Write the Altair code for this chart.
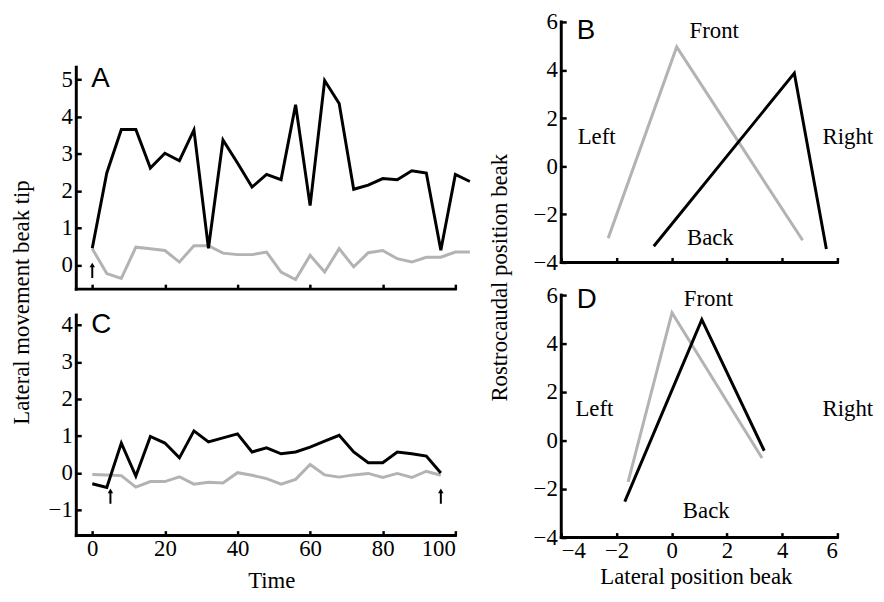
import altair as alt
import pandas as pd

SERIF = "Liberation Serif"
SANS = "Liberation Sans"
BLACK = "#000000"
GREY = "#b3b3b3"
FS = 23

# ---------------- data ----------------
time_A = [0, 4, 8, 12, 16, 20, 24, 28, 32, 36, 40, 44, 48, 52, 56, 60, 64, 68, 72, 76, 80, 84, 88, 92, 96, 100, 104]
A_black = [0.45, 2.48, 3.65, 3.65, 2.61, 3.01, 2.81, 3.64, 0.45, 3.37, 2.75, 2.10, 2.44, 2.30, 4.32, 1.60,
           4.97, 4.35, 2.04, 2.15, 2.33, 2.30, 2.54, 2.48, 0.40, 2.44, 2.25]
A_grey = [0.44, -0.23, -0.36, 0.48, 0.44, 0.39, 0.08, 0.52, 0.52, 0.32, 0.28, 0.28, 0.35, -0.19, -0.39, 0.26,
          -0.19, 0.44, -0.05, 0.33, 0.39, 0.17, 0.08, 0.21, 0.21, 0.35, 0.35]

time_C = [0, 4, 8, 12, 16, 20, 24, 28, 32, 36, 40, 44, 48, 52, 56, 60, 64, 68, 72, 76, 80, 84, 88, 92, 96]
C_black = [-0.29, -0.39, 0.81, -0.08, 0.99, 0.81, 0.41, 1.14, 0.84, 0.95, 1.06, 0.57, 0.68, 0.52, 0.57, 0.70,
           0.86, 1.02, 0.57, 0.28, 0.28, 0.57, 0.52, 0.46, 0.00]
C_grey = [-0.04, -0.05, -0.07, -0.38, -0.23, -0.23, -0.10, -0.30, -0.25, -0.27, 0.01, -0.06, -0.15, -0.30, -0.17,
          0.23, -0.05, -0.11, -0.05, -0.01, -0.12, -0.01, -0.12, 0.05, -0.06]

B_grey_x = [-2.30, 0.18, 4.74]
B_grey_y = [-2.99, 4.96, -3.08]
B_black_x = [-0.65, 4.44, 5.60]
B_black_y = [-3.33, 3.87, -3.44]

D_grey_x = [-1.58, 0.01, 3.27]
D_grey_y = [-1.70, 5.27, -0.72]
D_black_x = [-1.70, 1.09, 3.35]
D_black_y = [-2.52, 4.99, -0.42]

dir_labels = ["Front", "Left", "Right", "Back"]
B_dir_x = [1.54, -2.72, 6.38, 1.40]
B_dir_y = [5.60, 1.22, 1.22, -3.00]
D_dir_x = [1.33, -2.80, 6.38, 1.25]
D_dir_y = [5.85, 1.30, 1.30, -2.90]

# arrows (time, base, tip)
A_arrow_t = [0]
C_arrow_t = [5, 96]
A_arrow_base, A_arrow_tip = -0.35, 0.08
C_arrow_base, C_arrow_tip = -0.83, -0.40

# panel letters
letters = ["A", "C", "B", "D"]
letter_x = [-0.3, -0.3, -3.44, -3.44]
letter_y = [5.00, 4.00, 5.62, 5.81]

# axis extents
A_xdom, A_ydom = [-4.4, 100], [-0.65, 6.55]
A_yline = [-0.65, 5.33]
C_xdom, C_ydom = [-4.4, 100], [-1.69, 4.81]
C_yline = [-1.69, 4.27]
BD_xdom, BD_ydom = [-4, 6], [-4, 6]

W_L, W_R = 383, 279
H_A, H_C, H_B, H_D = 270, 243, 243, 245


def line_df(xs, ys):
    return pd.DataFrame({"x": xs, "y": ys, "i": list(range(len(xs)))})


def make_panel(series, xdom, ydom, xline, yline, w, h, xaxis, yaxis, texts, letter, arrows=None):
    xs = alt.Scale(domain=xdom, nice=False, zero=False)
    ys = alt.Scale(domain=ydom, nice=False, zero=False)

    def X(f):
        return alt.X(f, scale=xs, axis=xaxis)

    def Y(f):
        return alt.Y(f, scale=ys, axis=yaxis)

    layers = []
    for df, col in series:
        layers.append(alt.Chart(df).mark_line(color=col, strokeWidth=3, clip=False).encode(
            x=X("x:Q"), y=Y("y:Q"), order="i:Q"))
    ax_df = pd.DataFrame({"x": [xline[0], xline[0]], "x2": [xline[1], xline[0]],
                          "y": [yline[0], yline[0]], "y2": [yline[0], yline[1]]})
    layers.append(alt.Chart(ax_df).mark_rule(color=BLACK, strokeWidth=3, strokeCap="square").encode(
        x=X("x:Q"), x2="x2:Q", y=Y("y:Q"), y2="y2:Q"))
    if texts is not None:
        layers.append(alt.Chart(texts).mark_text(font=SERIF, fontSize=FS, color=BLACK,
                                                 align="center", baseline="middle").encode(
            x=X("x:Q"), y=Y("y:Q"), text="label:N"))
    layers.append(alt.Chart(letter).mark_text(font=SANS, fontSize=28, color=BLACK,
                                              align="left", baseline="middle").encode(
        x=X("x:Q"), y=Y("y:Q"), text="label:N"))
    if arrows is not None:
        layers.append(alt.Chart(arrows).mark_rule(color=BLACK, strokeWidth=2).encode(
            x=X("x:Q"), y=Y("base:Q"), y2="shaft:Q"))
        layers.append(alt.Chart(arrows).mark_point(shape="triangle-up", filled=True, color=BLACK,
                                                   opacity=1, size=30).encode(
            x=X("x:Q"), y=Y("head:Q")))
    return alt.layer(*layers).properties(width=w, height=h)


COMMON = dict(offset=-5, tickSize=5, tickWidth=2.5, tickColor=BLACK, domain=False, grid=False,
              labelFont=SERIF, labelFontSize=FS, labelColor=BLACK,
              titleFont=SERIF, titleFontSize=FS, titleFontWeight="normal", titleColor=BLACK)


def x_axis(labels, values, title=None, tx=None, ty=None):
    kw = dict(values=values, labels=labels, labelPadding=2, **COMMON)
    if title:
        kw.update(title=title, titleX=tx, titleY=ty, titleAlign="center", titleBaseline="middle",
                  titleAngle=0)
    else:
        kw.update(title=None)
    return alt.Axis(**kw)


def y_axis(values, title=None, tx=None, ty=None):
    kw = dict(values=values, labelPadding=4, **COMMON)
    if title:
        kw.update(title=title, titleX=tx, titleY=ty, titleAlign="center", titleBaseline="middle",
                  titleAngle=-90)
    else:
        kw.update(title=None)
    return alt.Axis(**kw)


def arrow_df(ts, base, tip, px_per_unit):
    head = tip - 3.0 / px_per_unit
    return pd.DataFrame({"x": ts, "base": [base] * len(ts), "shaft": [head] * len(ts),
                         "head": [head] * len(ts)})


def letter_df(k):
    return pd.DataFrame({"x": [letter_x[k]], "y": [letter_y[k]], "label": [letters[k]]})


panel_A = make_panel(
    [(line_df(time_A, A_grey), GREY), (line_df(time_A, A_black), BLACK)],
    A_xdom, A_ydom, [A_xdom[0], 100], A_yline, W_L, H_A,
    x_axis(False, [0, 20, 40, 60, 80, 100]),
    y_axis([0, 1, 2, 3, 4, 5]),
    None, letter_df(0), arrow_df(A_arrow_t, A_arrow_base, A_arrow_tip, 37.5))

panel_C = make_panel(
    [(line_df(time_C, C_grey), GREY), (line_df(time_C, C_black), BLACK)],
    C_xdom, C_ydom, [C_xdom[0], 100], C_yline, W_L, H_C,
    x_axis(True, [0, 20, 40, 60, 80, 100], "Time", 197, 50),
    y_axis([-1, 0, 1, 2, 3, 4], "Lateral movement beak tip", -60, 7),
    None, letter_df(1), arrow_df(C_arrow_t, C_arrow_base, C_arrow_tip, 37.4))

B_texts = pd.DataFrame({"x": B_dir_x, "y": B_dir_y, "label": dir_labels})
D_texts = pd.DataFrame({"x": D_dir_x, "y": D_dir_y, "label": dir_labels})

panel_B = make_panel(
    [(line_df(B_grey_x, B_grey_y), GREY), (line_df(B_black_x, B_black_y), BLACK)],
    BD_xdom, BD_ydom, BD_xdom, BD_ydom, W_R, H_B,
    x_axis(False, [-4, -2, 0, 2, 4, 6]),
    y_axis([-4, -2, 0, 2, 4, 6]),
    B_texts, letter_df(2))

panel_D = make_panel(
    [(line_df(D_grey_x, D_grey_y), GREY), (line_df(D_black_x, D_black_y), BLACK)],
    BD_xdom, BD_ydom, BD_xdom, BD_ydom, W_R, H_D,
    x_axis(True, [-4, -2, 0, 2, 4, 6], "Lateral position beak", 136, 44),
    y_axis([-4, -2, 0, 2, 4, 6], "Rostrocaudal position beak", -67, -18),
    D_texts, letter_df(3))

chart = alt.concat(panel_A, panel_B, panel_C, panel_D, columns=2,
                   spacing={"row": 6, "column": 107}, bounds="flush").properties(
    padding={"left": 2, "top": 0, "right": 2, "bottom": 2}, background="white"
).configure_view(stroke=None)

chart.save("out.html", embed_options={"renderer": "svg", "actions": False})
